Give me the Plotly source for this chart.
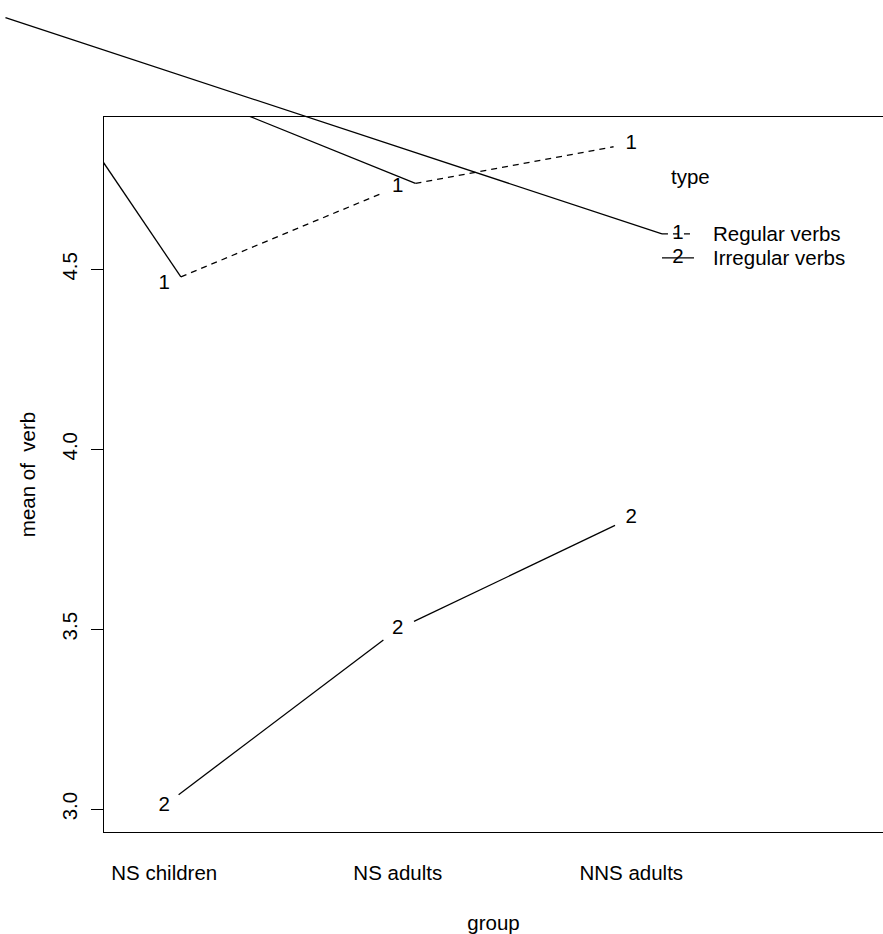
import plotly.graph_objects as go

# ---- data -------------------------------------------------------------
groups = ["NS children", "NS adults", "NNS adults"]
type_names = ["Regular verbs", "Irregular verbs"]
type_codes = ["1", "2"]
regular_means = [4.46, 4.73, 4.85]
irregular_means = [3.01, 3.50, 3.81]
y_ticks = [3.0, 3.5, 4.0, 4.5]
y_tick_text = ["3.0", "3.5", "4.0", "4.5"]
pen_origin = (0.32, 5.20)  # device start point of the stray solid strokes

# ---- geometry ---------------------------------------------------------
W, H = 883, 934
BOX_L, BOX_T, BOX_B = 104, 117, 832
FONT = "Liberation Sans, Arial, Helvetica, sans-serif"
FS = 20.5
LW = 1.3
DASH = "6px,5px"
GAP = 18  # gap (px) left around each plotting character

xs = [1, 2, 3]
x_range = [0.742, 4.078]
all_means = regular_means + irregular_means
lo, hi = min(all_means), max(all_means)
pad = 0.04 * (hi - lo)
y_range = [lo - pad, hi + pad]


def to_px(x, y):
    px = BOX_L + (x - x_range[0]) / (x_range[1] - x_range[0]) * (W - BOX_L)
    py = BOX_B - (y - y_range[0]) / (y_range[1] - y_range[0]) * (BOX_B - BOX_T)
    return px, py


def to_data(px, py):
    x = x_range[0] + (px - BOX_L) / (W - BOX_L) * (x_range[1] - x_range[0])
    y = y_range[0] + (BOX_B - py) / (BOX_B - BOX_T) * (y_range[1] - y_range[0])
    return x, y


def gapped_segments(xv, yv, gap):
    """Segments between consecutive points, shortened by `gap` px at both ends."""
    segs = []
    for i in range(len(xv) - 1):
        p = to_px(xv[i], yv[i])
        q = to_px(xv[i + 1], yv[i + 1])
        dx, dy = q[0] - p[0], q[1] - p[1]
        d = (dx * dx + dy * dy) ** 0.5
        ux, uy = dx / d, dy / d
        a = to_data(p[0] + ux * gap, p[1] + uy * gap)
        b = to_data(q[0] - ux * gap, q[1] - uy * gap)
        segs.append((a, b))
    return segs


fig = go.Figure()

# full-page overlay axes (same data units) for strokes that leave the box
x2_range = [to_data(0, 0)[0], to_data(W, 0)[0]]
y2_range = [to_data(0, H)[1], to_data(0, 0)[1]]

series = [(regular_means, DASH), (irregular_means, "solid")]
dashed_starts = []
for (vals, dash), code in zip(series, type_codes):
    for a, b in gapped_segments(xs, vals, GAP):
        fig.add_trace(go.Scatter(x=[a[0], b[0]], y=[a[1], b[1]], mode="lines",
                                 line=dict(color="black", width=LW, dash=dash),
                                 showlegend=False, hoverinfo="skip"))
        if dash != "solid":
            dashed_starts.append(a)
    fig.add_trace(go.Scatter(x=xs, y=vals, mode="text", text=[code] * len(xs),
                             textposition="middle center",
                             textfont=dict(family=FONT, size=FS, color="black"),
                             showlegend=False, hoverinfo="skip"))

# ---- legend (drawn inside the plotting region) ---------------------------
leg_x = 3.20
leg_half = 16 / 233.5
leg_text_x = 3.34
leg_ys = [4.599, 4.532]
leg_title_xy = (3.162, 4.757)
for code, name, yy, (vals, dash) in zip(type_codes, type_names, leg_ys, series):
    fig.add_trace(go.Scatter(x=[leg_x - leg_half, leg_x + leg_half], y=[yy, yy],
                             mode="lines", line=dict(color="black", width=LW, dash=dash),
                             showlegend=False, hoverinfo="skip"))
    fig.add_trace(go.Scatter(x=[leg_x], y=[yy], mode="text", text=[code],
                             textposition="middle center",
                             textfont=dict(family=FONT, size=FS, color="black"),
                             showlegend=False, hoverinfo="skip"))
    fig.add_annotation(x=leg_text_x, y=yy, text=name, showarrow=False,
                       xanchor="left", yanchor="middle",
                       font=dict(family=FONT, size=FS, color="black"))
fig.add_annotation(x=leg_title_xy[0], y=leg_title_xy[1], text="type", showarrow=False,
                   xanchor="left", yanchor="middle",
                   font=dict(family=FONT, size=FS, color="black"))

# stray solid strokes from the pen origin to each dashed segment start
for a in dashed_starts:
    fig.add_trace(go.Scatter(x=[pen_origin[0], a[0]], y=[pen_origin[1], a[1]],
                             mode="lines", line=dict(color="black", width=LW),
                             showlegend=False, hoverinfo="skip"))
fig.add_trace(go.Scatter(x=[pen_origin[0], leg_x - leg_half], y=[pen_origin[1], leg_ys[0]],
                         xaxis="x2", yaxis="y2", mode="lines",
                         line=dict(color="black", width=LW),
                         showlegend=False, hoverinfo="skip"))

fig.update_layout(
    width=W, height=H,
    margin=dict(l=0, r=0, t=0, b=0),
    paper_bgcolor="white", plot_bgcolor="rgba(0,0,0,0)",
    font=dict(family=FONT, size=FS, color="black"),
    showlegend=False,
    xaxis=dict(domain=[BOX_L / W, 1], range=x_range, tickvals=xs, ticktext=groups,
               ticks="", showline=True, mirror=True, linecolor="black", linewidth=LW,
               showgrid=False, zeroline=False, ticklabelstandoff=22,
               title=dict(text="group", standoff=32, font=dict(size=FS))),
    yaxis=dict(domain=[1 - BOX_B / H, 1 - BOX_T / H], range=y_range,
               tickvals=y_ticks, ticktext=y_tick_text, tickangle=-90,
               ticks="outside", ticklen=12, tickwidth=LW, tickcolor="black",
               showline=True, linecolor="black", linewidth=LW,
               showgrid=False, zeroline=False, ticklabelstandoff=6,
               title=dict(text="mean of\u00a0 verb", standoff=16, font=dict(size=FS))),
    xaxis2=dict(domain=[0, 1], range=x2_range, anchor="y2", visible=False),
    yaxis2=dict(domain=[0, 1], range=y2_range, anchor="x2", visible=False),
)

fig.write_html("out.html")
